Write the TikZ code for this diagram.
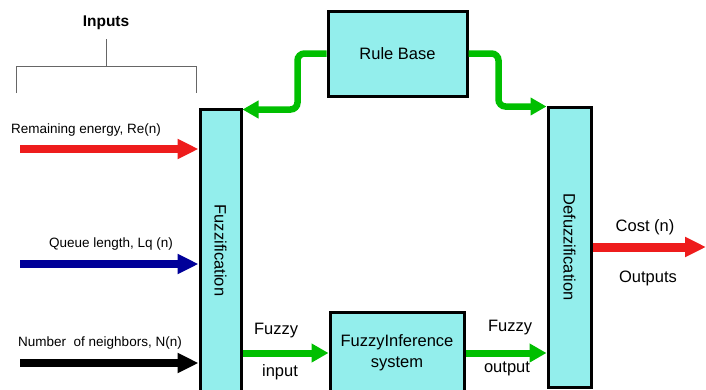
\documentclass[tikz,border=0pt]{standalone}
\usepackage{fontspec}
\setmainfont{Liberation Sans}
\usetikzlibrary{arrows.meta}
\definecolor{boxcyan}{HTML}{93EEEC}
\definecolor{flowgreen}{HTML}{00BF00}
\definecolor{inred}{HTML}{EE1C1C}
\definecolor{inblue}{HTML}{000099}
\begin{document}
\begin{tikzpicture}[x=1pt,y=-1pt,
	block/.style={draw=black, line width=3pt, fill=boxcyan, inner sep=0pt, font=\fontsize{16.5}{19}\selectfont},
	label/.style={inner sep=0pt, font=\fontsize{16.5}{19}\selectfont},
	inlabel/.style={inner sep=0pt, font=\fontsize{13.5}{16}\selectfont},
	fat/.style={line width=8pt, -{Triangle[length=21pt,width=19pt]}},
	flow/.style={flowgreen, line width=7pt, -{Triangle[length=17pt,width=18pt]}},
	feed/.style={flowgreen, line width=6.5pt, rounded corners=7pt, -{Triangle[length=16pt,width=17pt]}}]
	\useasboundingbox (0,0) rectangle (706,389);
	\node [block, minimum width=41, minimum height=283] (fuzz) at (220.5,250.5) {\rotatebox{-90}{Fuzzification}};
	\node [block, minimum width=43, minimum height=280] (defuzz) at (569.5,247) {\rotatebox{-90}{Defuzzification}};
	\node [block, minimum width=139, minimum height=85] (rule) at (397.5,53.5) {Rule Base};
	\node [block, minimum width=134, minimum height=82, align=center] (infer) at (397,353) {FuzzyInference\\[2pt]system};
	% inputs bracket
	\node [label, font=\bfseries\fontsize{15.5}{18}\selectfont] (inputs) at (106,23) {Inputs};
	\draw [black!60, line width=0.8pt] (106,39) -- (106,66);
	\draw [black!60, line width=0.8pt] (16,93) -- (16,66) -- (196,66) -- (196,93);
	% crisp inputs
	\coordinate (re) at (20,149);
	\coordinate (lq) at (20,264);
	\coordinate (nb) at (20,363);
	\node [inlabel] (re label) at (86,130) {Remaining energy, Re(n)};
	\node [inlabel] (lq label) at (111,244) {Queue length, Lq (n)};
	\node [inlabel] (nb label) at (100,343) {Number\ \ of neighbors, N(n)};
	\draw [fat, inred] (re) -- (re -| fuzz.west);
	\draw [fat, inblue] (lq) -- (lq -| fuzz.west);
	\draw [fat, black] (nb) -- (nb -| fuzz.west);
	% rule base links
	\draw [feed] (rule.west) -- ++(-29,0) |- ([yshift=-2pt]fuzz.north east);
	\draw [feed] (rule.east) -- ++(30,0) |- ([yshift=-1pt]defuzz.north west);
	% fuzzy sets
	\draw [flow] (fuzz.east |- infer.west) -- (infer.west);
	\draw [flow] (infer.east) -- (infer.east -| defuzz.west);
	\node [label] (fin1) at (276,331) {Fuzzy};
	\node [label] (fin2) at (280,372) {input};
	\node [label] (fout1) at (510,328) {Fuzzy};
	\node [label] (fout2) at (507,369) {output};
	% crisp output
	\coordinate (cost) at (706,247);
	\draw [fat, inred, line width=9pt] (defuzz.east) -- (cost);
	\node [label] (cost label) at (645,227) {Cost (n)};
	\node [label] (outputs) at (648,278) {Outputs};
\end{tikzpicture}
\end{document}
